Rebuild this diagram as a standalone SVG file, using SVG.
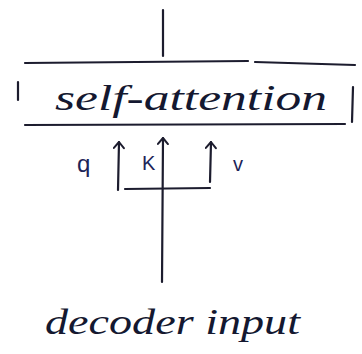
<svg xmlns="http://www.w3.org/2000/svg" width="362" height="354" viewBox="0 0 362 354">
<style>
.ln{stroke:#1c1c2e;stroke-width:2.2;fill:none;stroke-linecap:round;stroke-linejoin:round}
.t{font-family:"Liberation Serif",serif;font-style:italic;fill:#141830}
.lb{font-family:"Liberation Sans",sans-serif;fill:#1c2458}
</style>
<defs>
<marker id="ah" viewBox="0 0 12 12" refX="10" refY="6" markerWidth="12" markerHeight="12" markerUnits="userSpaceOnUse" orient="auto">
<path d="M4,1 L10,6 L4,11" stroke="#1c1c2e" stroke-width="2" fill="none" stroke-linecap="round" stroke-linejoin="round"/>
</marker>
</defs>
<rect width="362" height="354" fill="#ffffff"/>
<g id="attention">
<path class="ln" d="M25,63 L248,61 M255,62 L355,65"/>
<path class="ln" d="M18,82 L18,100"/>
<path class="ln" d="M25,125 L345,124"/>
<path class="ln" d="M353,87 L352,122"/>
<text class="t" x="55" y="110" font-size="36" textLength="272" lengthAdjust="spacingAndGlyphs">self-attention</text>
</g>
<g id="decoder-input">
<text class="t" x="45" y="334" font-size="36" textLength="255" lengthAdjust="spacingAndGlyphs">decoder input</text>
</g>
<g id="connectors">
<path class="ln" d="M163,10 L163,56"/>
<path class="ln" d="M162,282 L163,138" marker-end="url(#ah)"/>
<path class="ln" d="M118,190 L119,142" marker-end="url(#ah)"/>
<path class="ln" d="M210,182 L211,142" marker-end="url(#ah)"/>
<path class="ln" d="M125,189 L210,188"/>
<text class="lb" x="77" y="172" font-size="24">q</text>
<text class="lb" x="142" y="170" font-size="20">K</text>
<text class="lb" x="233" y="171" font-size="20">v</text>
</g>
</svg>
